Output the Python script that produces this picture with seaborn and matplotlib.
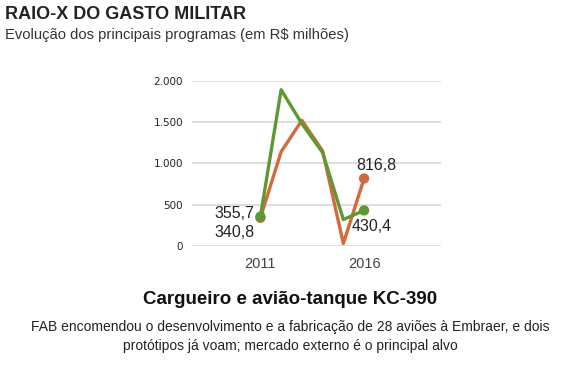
import matplotlib.pyplot as plt
import pandas as pd
import seaborn as sns

# Data (R$ milhões)
years = [2011, 2012, 2013, 2014, 2015, 2016]
orange_vals = [340.8, 1140, 1520, 1150, 30, 816.8]
green_vals = [355.7, 1890, 1480, 1130, 320, 430.4]
y_ticks = [0, 500, 1000, 1500, 2000]
y_tick_labels = ["0", "500", "1.000", "1.500", "2.000"]
x_tick_labels = ["2011", "", "", "", "", "2016"]

orange = "#d5693b"
green = "#5d9830"

df = pd.DataFrame({
    "ano": years * 2,
    "valor": orange_vals + green_vals,
    "serie": ["a"] * len(years) + ["b"] * len(years),
})

sns.set_style("white")
plt.rcParams["font.family"] = ["Liberation Sans", "DejaVu Sans"]

fig = plt.figure(figsize=(5.8, 3.77), dpi=100)
ax = fig.add_axes([0.331, 0.3475, 0.429, 0.4385])

sns.lineplot(data=df, x="ano", y="valor", hue="serie",
             palette={"a": orange, "b": green}, linewidth=2.4,
             legend=False, ax=ax)

# endpoint dots
ends = df[df["ano"].isin([years[0], years[-1]])]
sns.scatterplot(data=ends, x="ano", y="valor", hue="serie",
                palette={"a": orange, "b": green}, s=55, linewidth=0,
                legend=False, ax=ax, zorder=5)

ax.set_xlim(2007.7, 2019.7)
ax.set_ylim(0, 2000)
ax.set_yticks(y_ticks)
ax.set_yticklabels(y_tick_labels, fontsize=7.5, color="#222222",
                   family="DejaVu Sans")
ax.set_xticks(years)
ax.set_xticklabels(x_tick_labels, fontsize=10.5, color="#444444")
ax.tick_params(axis="y", length=0, pad=6.5)
ax.tick_params(axis="x", length=4, width=0.8, color="#bbbbbb", direction="in",
               pad=8)
ax.yaxis.grid(True, color="#dcdcdc", linewidth=1.3)
ax.set_axisbelow(True)
for s in ax.spines.values():
    s.set_visible(False)
ax.set_xlabel("")
ax.set_ylabel("")

lab = dict(fontsize=11.5, color="#222222")
ax.text(2010.7, green_vals[0] + 40, "355,7", ha="right", va="center", **lab)
ax.text(2010.7, orange_vals[0] - 180, "340,8", ha="right", va="center", **lab)
ax.text(2015.6, orange_vals[-1] + 160, "816,8", ha="left", va="center", **lab)
ax.text(2015.4, green_vals[-1] - 190, "430,4", ha="left", va="center", **lab)

fig.text(0.009, 0.985, "RAIO-X DO GASTO MILITAR", fontsize=13,
         fontweight="bold", color="#222222", va="top")
fig.text(0.009, 0.925, "Evolução dos principais programas (em R$ milhões)",
         fontsize=10.6, color="#333333", va="top")
fig.text(0.5, 0.205, "Cargueiro e avião-tanque KC-390", fontsize=13.5,
         fontweight="bold", color="#111111", ha="center", va="center")
fig.text(0.5, 0.108,
         "FAB encomendou o desenvolvimento e a fabricação de 28 aviões à Embraer, e dois\n"
         "protótipos já voam; mercado externo é o principal alvo",
         fontsize=10, color="#222222", ha="center", va="center",
         linespacing=1.5)

fig.savefig("out.png", dpi=100)
